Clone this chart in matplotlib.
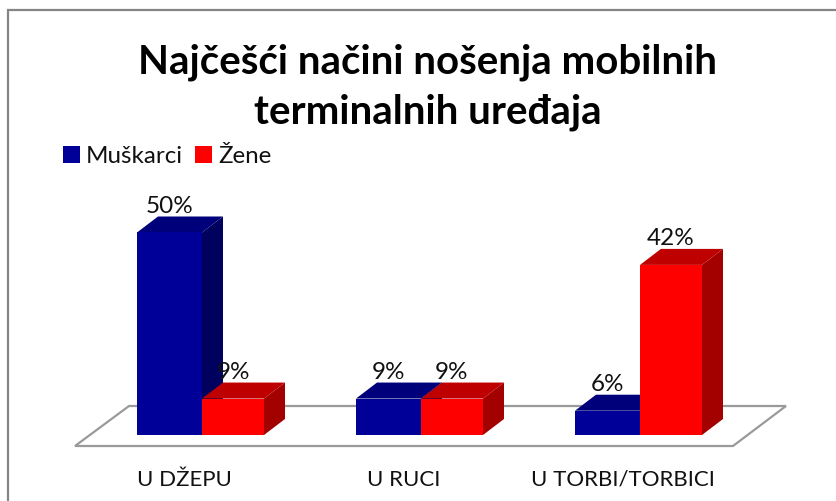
import matplotlib
matplotlib.use("Agg")
import matplotlib.pyplot as plt
from matplotlib.patches import Polygon, Rectangle, Patch

plt.rcParams['font.family'] = ['Lato', 'DejaVu Sans']

categories = ["U DŽEPU", "U RUCI", "U TORBI/TORBICI"]
muskarci = [50, 9, 6]
zene = [9, 9, 42]
labels = ["Muškarci", "Žene"]
title = "Najčešći načini nošenja mobilnih\nterminalnih uređaja"

W, H = 836, 501
fig = plt.figure(figsize=(W / 100, H / 100), dpi=100, facecolor="white")

# axes placed so category spacing and value scale match the reference
left, right = 92.5, 749.5
base, top = 435, 232.5
ax = fig.add_axes([left / W, 1 - base / H, (right - left) / W, (base - top) / H])
ax.set_xlim(-0.5, 2.5)
ax.set_ylim(0, 50)
ax.axis("off")

px = 3.0 / (right - left)
py = 50.0 / (base - top)
bw_m = 65 * px
bw_f = 62 * px
ddx, ddy = 21 * px, 16 * py

# floor
floor = [(75, 446), (733, 446), (786, 406), (129, 406)]
fx = lambda p: -0.5 + (p - left) * px
fy = lambda p: (base - p) * py
ax.add_patch(Polygon([(fx(a), fy(b)) for a, b in floor], closed=True, fc="white",
                     ec="#9a9a9a", lw=1.6, clip_on=False, zorder=1))


def bar3d(x0, v, bw, front, side, topc, z):
    ax.bar(x0, v, bw, align="edge", color=front, zorder=z + 0.2, clip_on=False)
    ax.add_patch(Polygon([(x0 + bw, 0), (x0 + bw + ddx, ddy), (x0 + bw + ddx, v + ddy), (x0 + bw, v)],
                         closed=True, fc=side, ec="none", clip_on=False, zorder=z))
    ax.add_patch(Polygon([(x0, v), (x0 + bw, v), (x0 + bw + ddx, v + ddy), (x0 + ddx, v + ddy)],
                         closed=True, fc=topc, ec="none", clip_on=False, zorder=z))


lab_off = ddy + 10 * py
for i, (m, f) in enumerate(zip(muskarci, zene)):
    bar3d(i - bw_m, m, bw_m, "#000099", "#00005f", "#00007a", 2 + i)
    bar3d(i, f, bw_f, "#ff0000", "#a30000", "#bf0000", 2.5 + i)
    ax.text(i - bw_m / 2, m + lab_off, f"{m}%", ha="center", va="center",
            fontsize=17.5, color="#111111", zorder=10, clip_on=False)
    ax.text(i + bw_f / 2, f + lab_off, f"{f}%", ha="center", va="center",
            fontsize=17.5, color="#111111", zorder=10, clip_on=False)
    ax.text(i - 17.5 * px, fy(480), categories[i],
            ha="center", va="center", fontsize=16, color="#111111", clip_on=False)

# chart border
fig.add_artist(Rectangle((8 / W, 1 - 520 / H), 1000 / W, 510 / H, transform=fig.transFigure,
                         fc="none", ec="#858585", lw=1.6))

fig.text(428 / W, 1 - 87.5 / H, title, ha="center", va="center", fontsize=29, fontweight="bold",
         color="black", linespacing=1.42)

fig.legend(handles=[Patch(fc="#000099", label=labels[0]), Patch(fc="#ff0000", label=labels[1])],
           loc="center left", bbox_to_anchor=(63 / W, 1 - 156.5 / H), frameon=False, ncol=2,
           fontsize=17.4, handlelength=0.7, handleheight=0.7, handletextpad=0.25, columnspacing=0.5,
           labelcolor="#111111", borderpad=0, borderaxespad=0)

fig.savefig("out.png", dpi=100, facecolor="white")
